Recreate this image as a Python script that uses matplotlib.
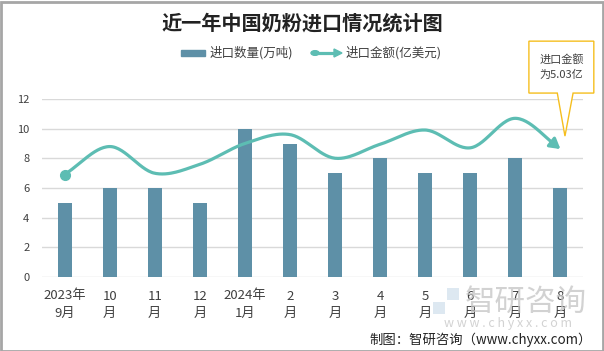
import matplotlib

matplotlib.use("Agg")
import matplotlib.pyplot as plt
import numpy as np
from matplotlib.patches import Rectangle, Polygon, Circle

plt.rcParams["font.family"] = ["Noto Sans CJK SC", "DejaVu Sans"]

months = ["2023年\n9月", "10\n月", "11\n月", "12\n月", "2024年\n1月", "2\n月",
          "3\n月", "4\n月", "5\n月", "6\n月", "7\n月", "8\n月"]
quantity = [5, 6, 6, 5, 10, 9, 7, 8, 7, 7, 8, 6]          # 万吨
amount = [4.03, 5.13, 4.08, 4.43, 5.25, 5.60, 4.67, 5.22, 5.78, 5.08, 6.24, 5.03]  # 亿美元

BAR = "#5E90A7"
LINE = "#5DBDB3"
TXT = "#404040"
W, H = 604, 351


def catmull_rom(x, y, n=30):
    px = np.concatenate([[2 * x[0] - x[1]], x, [2 * x[-1] - x[-2]]])
    py = np.concatenate([[2 * y[0] - y[1]], y, [2 * y[-1] - y[-2]]])
    xs, ys = [], []
    for i in range(1, len(px) - 2):
        t = np.linspace(0, 1, n, endpoint=False)
        for p, out in ((px, xs), (py, ys)):
            p0, p1, p2, p3 = p[i - 1], p[i], p[i + 1], p[i + 2]
            out.append(0.5 * (2 * p1 + (-p0 + p2) * t + (2 * p0 - 5 * p1 + 4 * p2 - p3) * t ** 2
                              + (-p0 + 3 * p1 - 3 * p2 + p3) * t ** 3))
    xs = np.concatenate(xs + [[x[-1]]])
    ys = np.concatenate(ys + [[y[-1]]])
    return xs, ys


fig = plt.figure(figsize=(W / 100, H / 100), dpi=100)
ax = fig.add_axes([42 / W, 1 - 277 / H, (583 - 42) / W, (277 - 99) / H])
x = np.arange(len(months))

ax.bar(x, quantity, width=0.31, color=BAR, zorder=2)
ax.set_xlim(-0.5, len(months) - 0.5)
ax.set_ylim(0, 12)
ax.set_yticks(range(0, 13, 2))
ax.yaxis.grid(True, color="#D9D9D9", linewidth=1)
ax.set_axisbelow(True)
for s in ax.spines.values():
    s.set_visible(False)
ax.tick_params(axis="y", length=0, pad=9, labelsize=8, labelcolor=TXT)
ax.tick_params(axis="x", length=0, pad=9, labelsize=9.5, labelcolor=TXT)
ax.set_xticks(x)
ax.set_xticklabels(months, linespacing=1.45)

ax2 = ax.twinx()
ax2.set_ylim(0, 7)
ax2.set_yticks([])
for s in ax2.spines.values():
    s.set_visible(False)
xs, ys = catmull_rom(x.astype(float), np.array(amount))
k = 7
ax2.plot(xs[:-k + 1], ys[:-k + 1], color=LINE, lw=2.3, solid_capstyle="round", zorder=3)
ax2.plot(x[0], amount[0], "o", color=LINE, markersize=7, zorder=4)
ax2.annotate("", xy=(xs[-1], ys[-1]), xytext=(xs[-k], ys[-k]),
             arrowprops=dict(arrowstyle="-|>,head_length=0.6,head_width=0.35",
                             color=LINE, lw=2.3, shrinkA=0, shrinkB=0), zorder=4)

# callout for the last point
tip = (11.1, 9.5)
box = [(10.3, 12.4), (10.3, 15.9), (11.74, 15.9), (11.74, 12.4), (11.28, 12.4), tip, (10.93, 12.4)]
ax.add_patch(Polygon(box, closed=True, facecolor="white", edgecolor="#F5BE1E",
                     lw=1, clip_on=False, zorder=5))
ax.text(11.02, 14.15, "进口金额\n为5.03亿", ha="center", va="center", fontsize=8,
        color=TXT, linespacing=1.5, zorder=6)

# title and legend
fig.text(302 / W, 1 - 23 / H, "近一年中国奶粉进口情况统计图", ha="center", va="center",
         fontsize=14.5, fontweight="bold", color="#222222")
fig.patches.append(Rectangle((181 / W, 1 - 56 / H), 24 / W, 6 / H, color=BAR,
                             transform=fig.transFigure))
fig.text(210 / W, 1 - 53 / H, "进口数量(万吨)", ha="left", va="center", fontsize=9, color=TXT)
fig.add_artist(plt.Line2D([315 / W, 336 / W], [1 - 53 / H] * 2, color=LINE, lw=2.3,
                          transform=fig.transFigure))
fig.add_artist(Circle((315 / W, 1 - 53 / H), 4 / W, color=LINE, transform=fig.transFigure))
fig.add_artist(Polygon([(334 / W, 1 - 49 / H), (342 / W, 1 - 53 / H), (334 / W, 1 - 57 / H)],
                       closed=True, color=LINE, transform=fig.transFigure))
fig.text(346 / W, 1 - 53 / H, "进口金额(亿美元)", ha="left", va="center", fontsize=9, color=TXT)

# watermark
fig.patches.append(Rectangle((433 / W, 1 - 314 / H), 12 / W, 12 / H, facecolor="#D5E3EE",
                             edgecolor="none", transform=fig.transFigure, alpha=0.8))
fig.patches.append(Rectangle((447 / W, 1 - 300 / H), 12 / W, 12 / H, facecolor="#D5E3EE",
                             edgecolor="none", transform=fig.transFigure, alpha=0.8))
fig.text(526 / W, 1 - 302 / H, "智研咨询", ha="center", va="center", fontsize=22,
         color="#C4C4C4", alpha=0.75)
fig.text(508 / W, 1 - 324 / H, "w w w . c h y x x . c o m", ha="center", va="center",
         fontsize=9, color="#C4C4C4", alpha=0.75)

fig.text(592 / W, 1 - 340 / H, "制图：智研咨询（www.chyxx.com）", ha="right", va="center",
         fontsize=9.6, color="#222222")

fig.patches.append(Rectangle((0.5 / W, 0.5 / H), 1 - 2 / W, 1 - 2 / H, fill=False,
                             edgecolor="#A6A6A6", lw=2, transform=fig.transFigure))

fig.savefig("out.png", dpi=100)
